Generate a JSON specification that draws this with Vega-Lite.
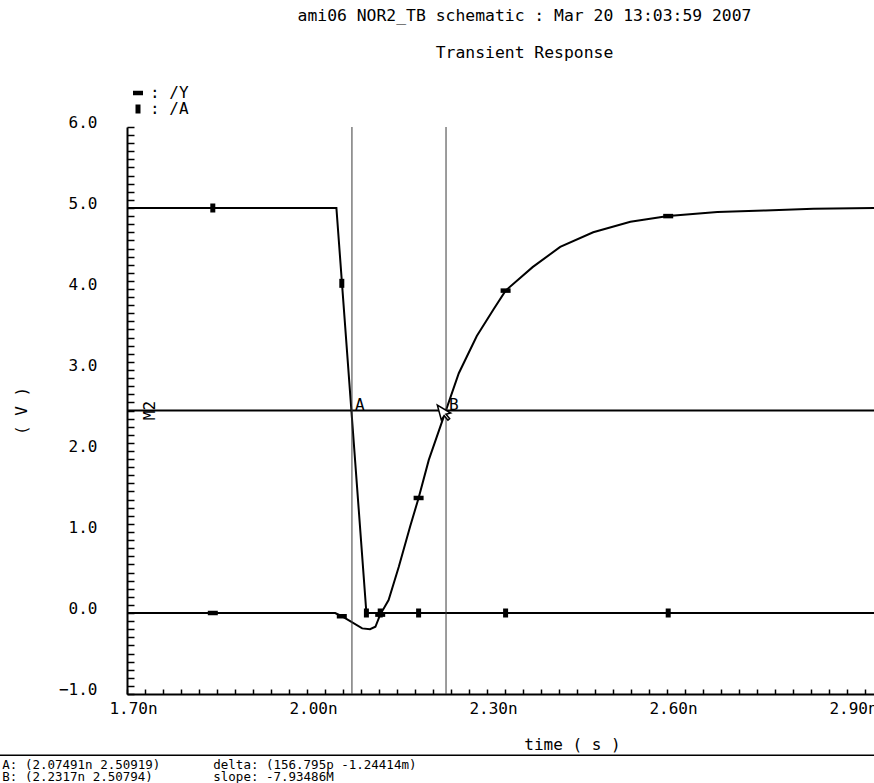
{
  "$schema": "https://vega.github.io/schema/vega-lite/v6.json",
  "width": 747,
  "height": 567,
  "autosize": {"type": "none"},
  "padding": {"left": 127, "top": 127, "right": 0, "bottom": 89},
  "background": "white",
  "title": {
    "text": ["ami06 NOR2_TB schematic : Mar 20 13:03:59 2007", "Transient Response"],
    "anchor": "middle",
    "frame": "group",
    "dx": 24,
    "offset": 24,
    "font": "DejaVu Sans Mono",
    "fontSize": 16.4,
    "fontWeight": "normal",
    "color": "black",
    "lineHeight": 37
  },
  "datasets": {
    "wave": [
      {"series": "/Y", "t": 1.70, "v": 0},
      {"series": "/Y", "t": 2.047, "v": 0},
      {"series": "/Y", "t": 2.058, "v": -0.04},
      {"series": "/Y", "t": 2.092, "v": -0.19},
      {"series": "/Y", "t": 2.105, "v": -0.2},
      {"series": "/Y", "t": 2.114, "v": -0.17},
      {"series": "/Y", "t": 2.122, "v": -0.02},
      {"series": "/Y", "t": 2.136, "v": 0.16},
      {"series": "/Y", "t": 2.153, "v": 0.57},
      {"series": "/Y", "t": 2.172, "v": 1.07},
      {"series": "/Y", "t": 2.186, "v": 1.42},
      {"series": "/Y", "t": 2.203, "v": 1.89},
      {"series": "/Y", "t": 2.231, "v": 2.49},
      {"series": "/Y", "t": 2.253, "v": 2.96},
      {"series": "/Y", "t": 2.283, "v": 3.42},
      {"series": "/Y", "t": 2.311, "v": 3.75},
      {"series": "/Y", "t": 2.331, "v": 3.98},
      {"series": "/Y", "t": 2.376, "v": 4.27},
      {"series": "/Y", "t": 2.422, "v": 4.52},
      {"series": "/Y", "t": 2.477, "v": 4.70},
      {"series": "/Y", "t": 2.539, "v": 4.83},
      {"series": "/Y", "t": 2.602, "v": 4.90},
      {"series": "/Y", "t": 2.684, "v": 4.95},
      {"series": "/Y", "t": 2.764, "v": 4.97},
      {"series": "/Y", "t": 2.844, "v": 4.99},
      {"series": "/Y", "t": 2.945, "v": 5.0},
      {"series": "/A", "t": 1.70, "v": 5},
      {"series": "/A", "t": 2.049, "v": 5},
      {"series": "/A", "t": 2.099, "v": 0},
      {"series": "/A", "t": 2.945, "v": 0}
    ],
    "markers": [
      {"series": "/Y", "t": 1.843, "v": 0},
      {"series": "/Y", "t": 2.058, "v": -0.04},
      {"series": "/Y", "t": 2.122, "v": -0.02},
      {"series": "/Y", "t": 2.186, "v": 1.42},
      {"series": "/Y", "t": 2.331, "v": 3.98},
      {"series": "/Y", "t": 2.602, "v": 4.90},
      {"series": "/A", "t": 1.843, "v": 5},
      {"series": "/A", "t": 2.058, "v": 4.07},
      {"series": "/A", "t": 2.099, "v": 0},
      {"series": "/A", "t": 2.122, "v": 0},
      {"series": "/A", "t": 2.186, "v": 0},
      {"series": "/A", "t": 2.331, "v": 0},
      {"series": "/A", "t": 2.602, "v": 0}
    ],
    "cursors": [
      {"name": "A", "t": 2.07491, "v": 2.50919},
      {"name": "B", "t": 2.2317, "v": 2.50794}
    ],
    "notes": [
      {"col": "left", "text": "A: (2.07491n 2.50919)\nB: (2.2317n 2.50794)"},
      {"col": "right", "text": "delta: (156.795p -1.24414m)\nslope: -7.93486M"}
    ],
    "marker_line": [{"name": "M2", "v": 2.5}]
  },
  "layer": [
    {
      "data": {"name": "wave"},
      "mark": {"type": "line", "color": "black", "strokeWidth": 2},
      "encoding": {
        "x": {
          "field": "t", "type": "quantitative",
          "scale": {"domain": [1.7, 2.945], "nice": false, "zero": false},
          "axis": {
            "values": [1.70,1.73,1.76,1.79,1.82,1.85,1.88,1.91,1.94,1.97,2.00,2.03,2.06,2.09,2.12,2.15,2.18,2.21,2.24,2.27,2.30,2.33,2.36,2.39,2.42,2.45,2.48,2.51,2.54,2.57,2.60,2.63,2.66,2.69,2.72,2.75,2.78,2.81,2.84,2.87,2.90,2.93],
            "tickCount": 500,
            "labelExpr": "abs(round(datum.value*100) % 30 - 20) < 0.5 ? format(datum.value, '.2f') + 'n' : ''",
            "title": "time ( s )",
            "titleX": 445,
            "titleY": 50,
            "titleAlign": "center",
            "titleBaseline": "middle",
            "titleFont": "DejaVu Sans Mono",
            "titleFontSize": 16,
            "titleFontWeight": "normal",
            "titleColor": "black",
            "tickSize": -5,
            "tickWidth": 1.5,
            "tickColor": "black",
            "domainColor": "black",
            "domainWidth": 2,
            "labelPadding": 11,
            "labelOffset": 6,
            "labelFlush": false,
            "labelOverlap": false,
            "labelBound": false,
            "labelFont": "DejaVu Sans Mono",
            "labelFontSize": 16,
            "labelColor": "black",
            "labelBaseline": "top",
            "grid": false
          }
        },
        "y": {
          "field": "v", "type": "quantitative",
          "scale": {"domain": [-1, 6], "nice": false, "zero": false},
          "axis": {
            "values": [-1,-0.9,-0.8,-0.7,-0.6,-0.5,-0.4,-0.3,-0.2,-0.1,0,0.1,0.2,0.3,0.4,0.5,0.6,0.7,0.8,0.9,1,1.1,1.2,1.3,1.4,1.5,1.6,1.7,1.8,1.9,2,2.1,2.2,2.3,2.4,2.5,2.6,2.7,2.8,2.9,3,3.1,3.2,3.3,3.4,3.5,3.6,3.7,3.8,3.9,4,4.1,4.2,4.3,4.4,4.5,4.6,4.7,4.8,4.9,5,5.1,5.2,5.3,5.4,5.5,5.6,5.7,5.8,5.9,6],
            "tickCount": 500,
            "labelExpr": "abs(datum.value - round(datum.value)) < 0.001 ? format(datum.value, '.1f') : ''",
            "title": "( V )",
            "titleAngle": 270,
            "titleX": -106,
            "titleY": 283.5,
            "titleAlign": "center",
            "titleBaseline": "middle",
            "titleFont": "DejaVu Sans Mono",
            "titleFontSize": 16,
            "titleFontWeight": "normal",
            "titleColor": "black",
            "tickSize": -7,
            "tickWidth": 1.5,
            "tickColor": "black",
            "domainColor": "black",
            "domainWidth": 2,
            "labelPadding": 37,
            "labelOverlap": false,
            "labelBound": false,
            "labelFlush": false,
            "labelFont": "DejaVu Sans Mono",
            "labelFontSize": 16,
            "labelColor": "black",
            "labelAlign": "right",
            "labelBaseline": "alphabetic",
            "grid": false
          }
        },
        "detail": {"field": "series"}
      }
    },
    {
      "data": {"name": "marker_line"},
      "mark": {"type": "rule", "color": "black", "strokeWidth": 2},
      "encoding": {
        "y": {"field": "v", "type": "quantitative", "scale": {"domain": [-1, 6], "nice": false, "zero": false}}
      }
    },
    {
      "data": {"name": "marker_line"},
      "mark": {"type": "text", "font": "DejaVu Sans Mono", "fontSize": 16, "color": "black", "angle": 270, "align": "center", "baseline": "middle", "dy": 2},
      "encoding": {
        "x": {"datum": 1.7353, "type": "quantitative", "scale": {"domain": [1.7, 2.945], "nice": false, "zero": false}},
        "y": {"field": "v", "type": "quantitative", "scale": {"domain": [-1, 6], "nice": false, "zero": false}},
        "text": {"field": "name"}
      }
    },
    {
      "data": {"name": "cursors"},
      "mark": {"type": "rule", "color": "#3a3a3a", "strokeWidth": 1},
      "encoding": {
        "x": {"field": "t", "type": "quantitative", "scale": {"domain": [1.7, 2.945], "nice": false, "zero": false}}
      }
    },
    {
      "data": {"name": "cursors"},
      "mark": {"type": "text", "font": "DejaVu Sans Mono", "fontSize": 16, "color": "black", "align": "left", "baseline": "alphabetic", "dx": 3, "dy": -1},
      "encoding": {
        "x": {"field": "t", "type": "quantitative", "scale": {"domain": [1.7, 2.945], "nice": false, "zero": false}},
        "y": {"datum": 2.5, "type": "quantitative", "scale": {"domain": [-1, 6], "nice": false, "zero": false}},
        "text": {"field": "name"}
      }
    },
    {
      "data": {"name": "markers"},
      "mark": {"type": "point", "filled": true, "color": "black", "opacity": 1, "strokeWidth": 0, "size": 100},
      "encoding": {
        "x": {"field": "t", "type": "quantitative", "scale": {"domain": [1.7, 2.945], "nice": false, "zero": false}},
        "y": {"field": "v", "type": "quantitative", "scale": {"domain": [-1, 6], "nice": false, "zero": false}},
        "shape": {
          "field": "series", "type": "nominal",
          "scale": {"domain": ["/Y", "/A"], "range": ["M-1,-0.45H1V0.45H-1Z", "M-0.5,-0.9H0.5V0.9H-0.5Z"]},
          "legend": {
            "orient": "none",
            "legendX": 3,
            "legendY": -42,
            "title": null,
            "padding": 0,
            "rowPadding": 0,
            "symbolSize": 100,
            "symbolFillColor": "black",
            "symbolStrokeWidth": 0,
            "labelOffset": 4,
            "labelFont": "DejaVu Sans Mono",
            "labelFontSize": 16,
            "labelColor": "black",
            "labelExpr": "': ' + datum.label"
          }
        }
      }
    },
    {
      "data": {"name": "cursors"},
      "transform": [{"filter": "datum.name === 'B'"}],
      "mark": {"type": "point", "filled": true, "fill": "white", "stroke": "black", "strokeWidth": 1.5, "opacity": 1, "size": 196, "shape": "M0,0L0,2.2L0.55,1.7L0.9,2.5L1.2,2.35L0.85,1.6L1.55,1.6Z", "angle": -15},
      "encoding": {
        "x": {"datum": 2.2172, "type": "quantitative", "scale": {"domain": [1.7, 2.945], "nice": false, "zero": false}},
        "y": {"datum": 2.568, "type": "quantitative", "scale": {"domain": [-1, 6], "nice": false, "zero": false}}
      }
    },
    {
      "data": {"name": "notes"},
      "transform": [{"filter": "datum.col === 'left'"}],
      "mark": {"type": "text", "font": "DejaVu Sans Mono", "fontSize": 12.5, "color": "black", "align": "left", "baseline": "top", "lineBreak": "\n", "lineHeight": 12.5},
      "encoding": {
        "x": {"datum": 1.4922, "type": "quantitative", "scale": {"domain": [1.7, 2.945], "nice": false, "zero": false}},
        "y": {"datum": -1.8, "type": "quantitative", "scale": {"domain": [-1, 6], "nice": false, "zero": false}},
        "text": {"field": "text"}
      }
    },
    {
      "data": {"name": "notes"},
      "transform": [{"filter": "datum.col === 'right'"}],
      "mark": {"type": "text", "font": "DejaVu Sans Mono", "fontSize": 12.5, "color": "black", "align": "left", "baseline": "top", "lineBreak": "\n", "lineHeight": 12.5},
      "encoding": {
        "x": {"datum": 1.8438, "type": "quantitative", "scale": {"domain": [1.7, 2.945], "nice": false, "zero": false}},
        "y": {"datum": -1.8, "type": "quantitative", "scale": {"domain": [-1, 6], "nice": false, "zero": false}},
        "text": {"field": "text"}
      }
    },
    {
      "data": {"name": "marker_line"},
      "mark": {"type": "rule", "color": "black", "strokeWidth": 1.5},
      "encoding": {
        "x": {"datum": 1.4883, "type": "quantitative", "scale": {"domain": [1.7, 2.945], "nice": false, "zero": false}},
        "x2": {"datum": 2.945},
        "y": {"datum": -1.755, "type": "quantitative", "scale": {"domain": [-1, 6], "nice": false, "zero": false}}
      }
    }
  ],
  "config": {
    "view": {"stroke": null},
    "font": "DejaVu Sans Mono"
  }
}
